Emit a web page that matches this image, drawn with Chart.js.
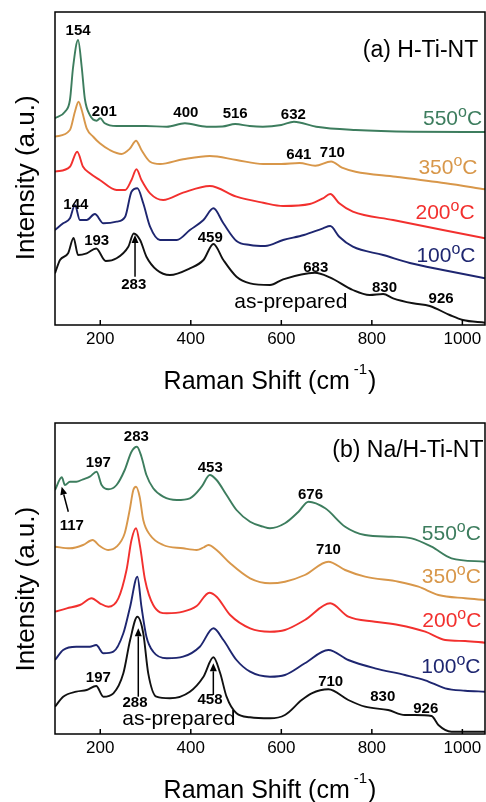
<!DOCTYPE html>
<html><head><meta charset="utf-8">
<script src="https://cdn.jsdelivr.net/npm/chart.js@4"></script>
<style>html,body{margin:0;padding:0;background:#fff;overflow:hidden}canvas{display:block}</style>
</head><body>
<canvas id="ca" width="486" height="400"></canvas>
<canvas id="cb" width="486" height="402"></canvas>
<script>
const FONT = "'Liberation Sans', Arial, Helvetica, sans-serif";

// ---------- shared ----------
const xTicks = [200, 400, 600, 800, 1000];
const seriesNames = ['550', '350', '200', '100', 'as-prepared'];
const colors = { '550': '#3d7d5e', '350': '#d8974a', '200': '#f2302e', '100': '#1e2670', 'as-prepared': '#111111' };

// ---------- panel (a) H-Ti-NT : Raman shift (cm-1) / intensity (a.u., offset) ----------
const a550X = [100,122,133,140,151,159,166,177,192,200,210,236,300,347,387,435,470,498,530,559,600,628,677,764,890,1050];
const a550Y = [206.7,213.3,225,258,285,258,226,210,204.3,206.7,201.7,199,199,198.3,201.7,198.3,198.5,201,199,198.3,200,203.3,198.3,195,193.3,193];
const a350X = [100,133,144,152,159,170,185,199,221,247,266,279,291,310,332,383,442,501,560,600,640,675,710,734,764,853,963,1050];
const a350Y = [188.3,195,213.3,223.3,215,196.7,188,181.7,175,171,176.7,184.3,175,163.3,161,165.7,169,165,161,161,162,159.3,163.5,157.3,153.3,148.3,141.7,135.7];
const a200X = [100,133,149,162,177,199,236,255,269,280,291,310,339,383,442,501,560,604,663,692,708,728,758,847,957,1050];
const a200Y = [153.3,158.3,173.3,158.3,151.7,145,135,135,145,155.7,145,131.7,125,132.3,139,128.3,122.3,119,121,126.7,131,121.7,113.3,105,95,86.7];
const a100X = [100,118,133,144,155,170,188,207,236,255,269,282,295,310,332,369,398,428,450,472,501,531,564,604,650,692,708,728,758,825,884,957,1050];
const a100Y = [95,101.7,106.7,120,105,105,111,101.7,103.3,108.3,133.3,136.7,121.7,98.3,85,85,95,105,116.7,101.7,84,80,79,85,90,96.7,99,88.3,78.3,70,62,55,46.7];
const a0X = [100,111,129,141,151,170,191,212,236,262,274,288,302,325,354,398,428,450,472,501,531,575,604,674,707,758,795,825,847,891,928,972,1001,1050];
const a0Y = [51.7,65,71.7,87,70,71.7,76.5,64,66.7,78.3,91.5,85,68.3,55,50,56.7,65,81,65,48.3,41.7,40,45.7,52.3,47.7,35,30,31,26.7,21.7,19,10,5,2.3];

// ---------- panel (b) Na/H-Ti-NT ----------
const b550X = [100,115,122,133,147,162,177,192,203,218,236,254,269,281,291,302,317,339,369,398,424,442,457,479,501,531,560,575,608,638,660,697,741,785,844,888,932,976,1050];
const b550Y = [244,256.7,249,252.3,252.3,254.7,257.3,262.3,249,244.7,249,264,282.3,287.3,277.3,259,245.7,237.3,234,235.7,247.3,259,254,239,224,212.3,207.3,205.7,210.7,222.3,232.3,225.7,207.3,199,197.3,195.7,187.3,175.7,172.3];
const b350X = [100,133,162,183,199,218,236,254,265,273,279,287,295,310,339,383,413,428,439,457,487,531,575,608,652,704,741,785,859,903,947,1006,1050];
const b350Y = [187.3,185.7,189,194,188,184,187.3,200.7,224,244,247.3,237.3,214,199,189,185.7,184,186.5,189,184,170.7,155.7,150.7,152.3,159,172.3,164,157.3,152.3,147.3,139,135.7,134];
const b200X = [100,126,155,181,199,218,240,258,269,279,288,299,317,347,383,413,441,457,487,531,575,608,652,708,748,807,859,918,962,1006,1050];
const b200Y = [122.3,125.7,129,135.7,130.7,127.3,135.7,164,194,205.7,187.3,154,129,120.7,122.3,128,141.3,137.3,119,105.7,102.3,104,114,130.7,117.3,112.3,109,102.3,94,93,91.3];
const b100X = [100,118,147,177,191,207,229,251,266,282,291,302,317,347,383,420,450,472,501,531,575,608,652,704,748,807,873,918,962,1006,1050];
const b100Y = [74,84,87.3,87.3,89,80.7,82.3,100.7,127.3,157.3,127.3,97.3,82.3,75.7,77.3,87.3,105.7,94,74,62.3,57.3,59,70.7,84,74,65.7,59,53.7,45.7,43.3,42.3];
const b0X = [100,118,147,170,191,207,229,251,266,282,295,306,324,354,398,428,450,465,479,501,531,575,608,645,667,704,748,785,836,873,895,932,947,976,1050];
const b0Y = [27.3,37.3,42.3,44,48,37.3,40.7,60.7,94,117.3,100.7,60.7,37.3,35.7,42.3,57.3,76.7,60.7,37.3,20.7,16.7,15.7,19,34,40.7,44.7,34,27.3,24,19,19,18,9,2.3,2.3];

// ---------- annotations (text, x in cm-1, y in a.u.) ----------
const annot = {
  ca: {
    peaks: [['154',151,290],['201',209,209.3],['400',389,208.3],['516',498,206.7],['632',626.5,205.7],
            ['641',638.7,166],['710',712.7,168.3],['144',146,116],['193',192,80],['459',443,83.3],
            ['283',274,36.5],['683',676,53.5],['830',828,33.3],['926',953,21.7]],
    temps: [['550',1043.5,200],['350',1033.5,150.7],['200',1027,105.7],['100',1029,63.3]],
    sample: ['as-prepared',621,16.7],
    panel: ['(a) H-Ti-NT',1035,268.3],
    arrows: [[276.8,48.3,276.8,90]],
    yTitleY: 177.8, xTitleBase: 389
  },
  cb: {
    peaks: [['283',279.7,293.3],['197',195.7,267.3],['453',443,262.3],['117',137,204],['676',664.5,235],
            ['710',704,179.7],['710',709,48],['830',824,33],['926',919,20.7],['197',195.7,52.3],
            ['288',276.8,26.7],['458',442.5,30]],
    temps: [['550',1041,194],['350',1041,150.7],['200',1042,107.3],['100',1040,60.7]],
    sample: ['as-prepared',373.6,9],
    panel: ['(b) Na/H-Ti-NT',1046.7,277.3],
    arrows: [[129.4,222.3,114.8,247.3],[284,37.3,284,105.7],[449.8,39,449.8,70.7]],
    yTitleY: 189.2, xTitleBase: 398
  }
};

function runs(ctx, parts, x, y, align) {
  let w = 0;
  parts.forEach(p => { ctx.font = p.f; p.w = ctx.measureText(p.t).width; w += p.w + (p.gap || 0); });
  let cx = align === 'right' ? x - w : (align === 'center' ? x - w / 2 : x);
  ctx.textAlign = 'left'; ctx.textBaseline = 'alphabetic';
  parts.forEach(p => { ctx.font = p.f; cx += (p.gap || 0); ctx.fillText(p.t, cx, y + (p.dy || 0)); cx += p.w; });
}
function arrow(ctx, x1, y1, x2, y2) {
  const ang = Math.atan2(y2 - y1, x2 - x1), L = 8, W = 3.5;
  const bx = x2 - L * Math.cos(ang), by = y2 - L * Math.sin(ang);
  ctx.beginPath(); ctx.moveTo(x1, y1); ctx.lineTo(bx, by); ctx.stroke();
  ctx.beginPath(); ctx.moveTo(x2, y2);
  ctx.lineTo(bx - W * Math.sin(ang), by + W * Math.cos(ang));
  ctx.lineTo(bx + W * Math.sin(ang), by - W * Math.cos(ang));
  ctx.closePath(); ctx.fill();
}

const deco = {
  id: 'deco',
  afterDraw(chart) {
    const cfg = annot[chart.canvas.id];
    const ctx = chart.ctx, ca = chart.chartArea, xs = chart.scales.x, ys = chart.scales.y;
    const px = v => xs.getPixelForValue(v), py = v => ys.getPixelForValue(v);
    ctx.save();
    ctx.strokeStyle = '#000'; ctx.fillStyle = '#000'; ctx.lineWidth = 1.5;
    ctx.strokeRect(ca.left, ca.top, ca.right - ca.left, ca.bottom - ca.top);
    xs.ticks.forEach(t => { const x = px(t.value); ctx.beginPath(); ctx.moveTo(x, ca.bottom); ctx.lineTo(x, ca.bottom - 5); ctx.stroke(); });
    // y title
    ctx.save();
    ctx.translate(33.5, cfg.yTitleY); ctx.rotate(-Math.PI / 2);
    ctx.font = '26px ' + FONT; ctx.textAlign = 'center'; ctx.textBaseline = 'alphabetic';
    ctx.fillText('Intensity (a.u.)', 0, 0);
    ctx.restore();
    // x title
    runs(ctx, [{t: 'Raman Shift (cm', f: '25px ' + FONT}, {t: '-1', f: '15px ' + FONT, dy: -15, gap: 4}, {t: ')', f: '25px ' + FONT, gap: 1}],
         (ca.left + ca.right) / 2, cfg.xTitleBase, 'center');
    // peak labels
    ctx.font = 'bold 15px ' + FONT; ctx.textAlign = 'center'; ctx.textBaseline = 'alphabetic';
    cfg.peaks.forEach(p => { ctx.fillText(p[0], px(p[1]), py(p[2])); });
    cfg.arrows.forEach(a => arrow(ctx, px(a[0]), py(a[1]), px(a[2]), py(a[3])));
    ctx.font = '21px ' + FONT; ctx.textAlign = 'center';
    ctx.fillText(cfg.sample[0], px(cfg.sample[1]), py(cfg.sample[2]));
    ctx.font = '23px ' + FONT; ctx.textAlign = 'right';
    ctx.fillText(cfg.panel[0], px(cfg.panel[1]), py(cfg.panel[2]));
    cfg.temps.forEach(t => {
      ctx.fillStyle = colors[t[0]];
      runs(ctx, [{t: t[0], f: '21px ' + FONT}, {t: 'o', f: '16px ' + FONT, dy: -8}, {t: 'C', f: '21px ' + FONT}], px(t[1]), py(t[2]), 'right');
    });
    ctx.restore();
  }
};

function makeChart(id, xsArr, ysArr, yMax, padTop, xAxisH) {
  const datasets = seriesNames.map((n, i) => ({
    label: n,
    data: xsArr[i].map((v, j) => ({x: v, y: ysArr[i][j]})),
    borderColor: colors[n], borderWidth: 1.9, pointRadius: 0, fill: false,
    cubicInterpolationMode: 'monotone'
  }));
  return new Chart(document.getElementById(id), {
    type: 'line',
    data: {datasets},
    options: {
      responsive: false, animation: false, devicePixelRatio: 1,
      layout: {padding: {top: padTop, right: 1, left: 0, bottom: 0}},
      plugins: {legend: {display: false}, tooltip: {enabled: false}},
      scales: {
        x: {type: 'linear', min: 100, max: 1050,
            afterFit: s => { s.height = xAxisH; },
            afterBuildTicks: s => { s.ticks = xTicks.map(v => ({value: v})); },
            grid: {display: false, drawTicks: false}, border: {display: false},
            ticks: {font: {family: FONT, size: 17}, color: '#000', padding: 4, maxRotation: 0, autoSkip: false,
                    callback: v => String(v)}},
        y: {type: 'linear', min: 0, max: yMax,
            afterFit: s => { s.width = 55; },
            grid: {display: false, drawTicks: false}, border: {display: false},
            ticks: {display: false}}
      }
    },
    plugins: [deco]
  });
}

makeChart('ca', [a550X, a350X, a200X, a100X, a0X], [a550Y, a350Y, a200Y, a100Y, a0Y], 313, 12, 75);
makeChart('cb', [b550X, b350X, b200X, b100X, b0X], [b550Y, b350Y, b200Y, b100Y, b0Y], 311, 23, 68);
</script>
</body></html>
